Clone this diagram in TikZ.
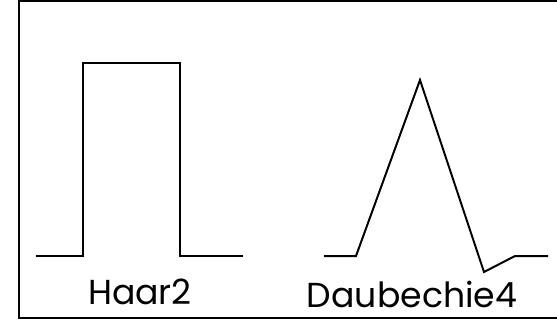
\documentclass[tikz,border=0pt]{standalone}
\usepackage{fontspec}
\setmainfont{Poppins}
\begin{document}
\begin{tikzpicture}[x=0.75pt, y=-0.75pt, line width=1.5pt,
    wave/.style={line width=1.5pt, line join=miter},
    label/.style={font=\fontsize{26}{30}\selectfont, inner sep=0pt}]

    % ---- frame ----
    \useasboundingbox (0,0) rectangle (557,324);
    \draw (560,1) -- (19,1) -- (19,318) -- (560,318);

    % ---- Haar ----
    \draw[wave] (36,256) -- (83,256) -- (83,63) -- (180,63) -- (180,256) -- (243,256);
    \node[label] (haar) at (140,292) {Haar2};

    % ---- Daubechies ----
    \draw[wave] (324,256) -- (356,256) -- (420,80) -- (484,272) -- (515,256) -- (548,256);
    \node[label] (daub) at (412,294) {Daubechie4};

\end{tikzpicture}
\end{document}
